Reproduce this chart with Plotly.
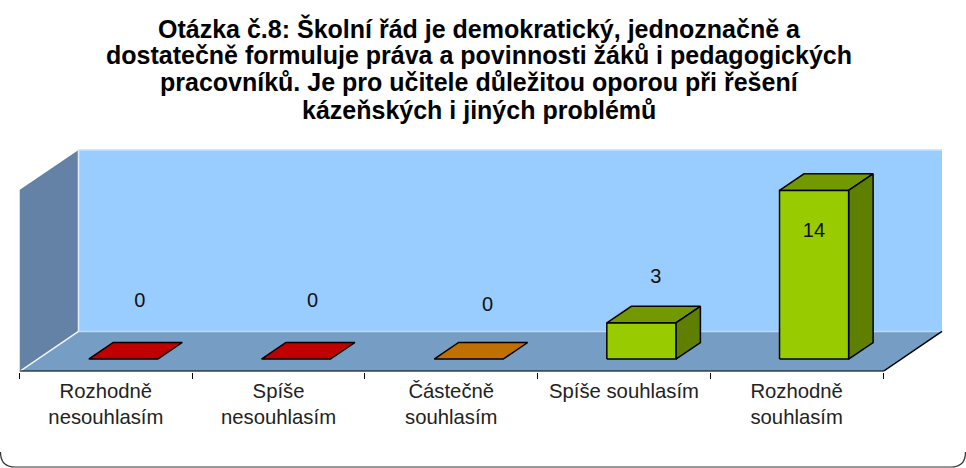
import plotly.graph_objects as go

W, H = 966, 468

title_lines = [
    "Otázka č.8: Školní řád je demokratický, jednoznačně a",
    "dostatečně formuluje práva a povinnosti žáků i pedagogických",
    "pracovníků. Je pro učitele důležitou oporou při řešení",
    "kázeňských i jiných problémů",
]
title_centers = [28, 55, 82, 110]
categories = [
    "Rozhodně<br>nesouhlasím",
    "Spíše<br>nesouhlasím",
    "Částečně<br>souhlasím",
    "Spíše souhlasím",
    "Rozhodně<br>souhlasím",
]
values = [0, 0, 0, 3, 14]
label_heights = [5.8, 5.8, 5.4, 7.75, 11.6]
label_shift = [0.197, 0.197, 0.21, 0.185, 0.10]
front_colors = ["#C00000", "#C00000", "#C07000", "#99CC00", "#99CC00"]
top_colors = ["#C00000", "#C00000", "#C07000", "#739900", "#739900"]
side_colors = ["#900000", "#900000", "#905400", "#5F7F00", "#5F7F00"]

px_per_cat = 172.7
px_per_unit = 12.05
y_max = 18.38        # top of the wall, in value units
depth_dx = 0.3416    # full floor depth projected on the category axis
depth_dy = 3.32      # full floor depth projected on the value axis
bar_w = 0.4
bar_d0, bar_d1 = 0.31, 0.725


def proj(x, y, d):
    return x + d * depth_dx, y + d * depth_dy


def poly(points, fill, line=None, lw=1.5):
    xs, ys = zip(*(proj(*p) for p in points + points[:1]))
    return go.Scatter(
        x=xs, y=ys, mode="lines", fill="toself", fillcolor=fill,
        line=dict(color=line or fill, width=lw if line else 0),
        hoverinfo="skip", showlegend=False, cliponaxis=False,
    )


def edge(p, q, color, lw):
    xs, ys = zip(proj(*p), proj(*q))
    return go.Scatter(
        x=xs, y=ys, mode="lines", line=dict(color=color, width=lw),
        hoverinfo="skip", showlegend=False, cliponaxis=False,
    )


L, R = -0.5, 4.5
top = y_max - depth_dy
fig = go.Figure()
# walls and floor
fig.add_trace(poly([(L, 0, 1), (R, 0, 1), (R, top, 1), (L, top, 1)], "#99CCFF"))
fig.add_trace(poly([(L, 0, 0), (L, 0, 1), (L, top, 1), (L, top, 0)], "#6482A6"))
fig.add_trace(poly([(L, 0, 0), (R, 0, 0), (R, 0, 1), (L, 0, 1)], "#769DC4"))
fig.add_trace(edge((L, 0, 1), (R, 0, 1), "#C4D8EC", 1.5))
fig.add_trace(edge((L, 0, 0), (L, 0, 1), "#F2F6FA", 1.5))
fig.add_trace(edge((L, 0, 1), (L, top, 1), "#E4EEF8", 1.5))
fig.add_trace(edge((L, top, 1), (R, top, 1), "#C4E0FF", 1.5))
fig.add_trace(edge((R, 0, 0), (R, 0, 1), "#000000", 1.5))
fig.add_trace(edge((L, 0, 0), (R, 0, 0), "#000000", 2))

# bars
for i, v in enumerate(values):
    x0, x1 = i - bar_w / 2 - 0.005, i + bar_w / 2 - 0.005
    fig.add_trace(poly([(x0, v, bar_d0), (x1, v, bar_d0), (x1, v, bar_d1), (x0, v, bar_d1)], top_colors[i], "#000000"))
    if v > 0:
        fig.add_trace(poly([(x1, 0, bar_d0), (x1, 0, bar_d1), (x1, v, bar_d1), (x1, v, bar_d0)], side_colors[i], "#000000"))
        fig.add_trace(poly([(x0, 0, bar_d0), (x1, 0, bar_d0), (x1, v, bar_d0), (x0, v, bar_d0)], front_colors[i], "#000000"))

# value labels
fig.add_trace(go.Scatter(
    x=[i + s for i, s in enumerate(label_shift)],
    y=label_heights,
    mode="text",
    text=[str(v) for v in values],
    textposition="middle center",
    textfont=dict(family="Liberation Sans", size=20, color="#111111"),
    hoverinfo="skip", showlegend=False, cliponaxis=False,
))

# rounded chart frame, open at the top
r = 15
fig.add_shape(
    type="path", xref="paper", yref="paper",
    path=(f"M {0.5/W} {(r+1)/H} "
          f"Q {0.5/W} {1/H} {r/W} {1/H} L {(W-r)/W} {1/H} "
          f"Q {(W-0.5)/W} {1/H} {(W-0.5)/W} {(r+1)/H}"),
    line=dict(color="#333333", width=1.2),
)

for line, cy in zip(title_lines, title_centers):
    fig.add_annotation(
        text=line, xref="paper", yref="paper", x=479 / W, y=1 - cy / H,
        xanchor="center", yanchor="middle", showarrow=False,
        font=dict(family="Liberation Sans", size=25, color="#000000", weight="bold"),
    )

fig.update_layout(
    width=W, height=H,
    margin=dict(l=0, r=0, t=0, b=0),
    paper_bgcolor="#FFFFFF", plot_bgcolor="rgba(0,0,0,0)",
    showlegend=False,
    font=dict(family="Liberation Sans", color="#111111"),
    xaxis=dict(
        domain=[19.5 / W, 1], range=[L, L + (W - 19.5) / px_per_cat], anchor="y",
        tickvals=list(range(len(categories))), ticktext=categories,
        ticks="", showgrid=False, zeroline=False, showline=False,
        tickfont=dict(family="Liberation Sans", size=20.3, color="#222222"),
        minor=dict(tickvals=[k - 0.5 for k in range(len(categories) + 1)],
                   ticks="outside", ticklen=6, tickcolor="#000000", tickwidth=1, showgrid=False),
        ticklabelstandoff=5,
        fixedrange=True,
    ),
    yaxis=dict(
        domain=[1 - 371.5 / H, 1 - 130 / H], range=[0, (371.5 - 130) / px_per_unit],
        visible=False, fixedrange=True,
    ),
)

fig.write_html("out.html", post_script="document.body.style.margin='0';", config={"displayModeBar": False})
